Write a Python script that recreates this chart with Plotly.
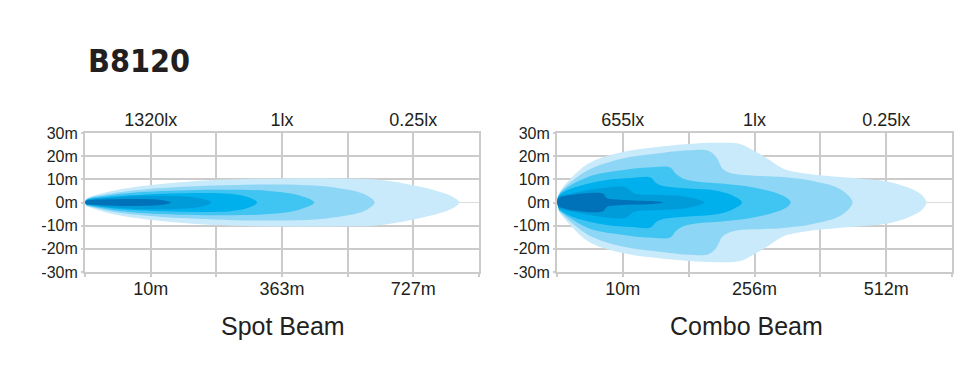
import plotly.graph_objects as go

# page body adds an 8px margin, so the figure is laid out in a shifted frame
OFF = 8
W, H = 977 - 2 * OFF, 389 - 2 * OFF


def px_x(p):
    return (p - OFF) / W


def px_y(p):
    return 1 - (p - OFF) / H


# ---------------- data ----------------
title_text = "B8120"
y_ticks = [-30, -20, -10, 0, 10, 20, 30]
y_labels = ["-30m", "-20m", "-10m", "0m", "10m", "20m", "30m"]
grid_x = [0, 1, 2, 3, 4, 5, 6]

spot_dist_labels = ["", "10m", "", "363m", "", "727m", ""]
spot_lux_labels = ["1320lx", "1lx", "0.25lx"]
combo_dist_labels = ["", "10m", "", "256m", "", "512m", ""]
combo_lux_labels = ["655lx", "1lx", "0.25lx"]
lux_positions = [1, 3, 5]

colors = ["#c9eafa", "#8ed6f6", "#40c4f2", "#00b0ec", "#009bd9", "#0072b9"]

# Spot beam isolux contours: distance (grid units) and half-width (m)
spot1_x = [0, 0.02, 0.43, 0.94, 1.45, 1.96, 2.98, 4.0, 4.4, 4.86, 5.37, 5.6, 5.7]
spot1_w = [0, 1.6, 5.1, 7.3, 8.7, 9.7, 10.4, 10.3, 10.0, 8.2, 4.9, 2.5, 0]
spot2_x = [0, 0.02, 0.43, 0.94, 1.96, 2.9, 3.5, 3.84, 4.25, 4.41]
spot2_w = [0, 1.4, 4.0, 5.7, 7.3, 7.8, 7.3, 6.3, 3.7, 0]
spot3_x = [0, 0.02, 0.43, 0.94, 1.96, 2.8, 3.23, 3.49]
spot3_w = [0, 1.2, 3.3, 4.6, 5.5, 5.0, 3.3, 0]
spot4_x = [0, 0.02, 0.43, 0.94, 1.45, 2.21, 2.5, 2.62]
spot4_w = [0, 1.0, 2.6, 3.5, 4.0, 3.8, 2.2, 0]
spot5_x = [0, 0.02, 0.43, 0.94, 1.45, 1.8, 1.92]
spot5_w = [0, 0.9, 2.2, 2.9, 2.7, 1.6, 0]
spot6_x = [0, 0.02, 0.3, 0.69, 1.15, 1.31]
spot6_w = [0, 0.8, 1.3, 1.5, 1.1, 0]

# Combo beam isolux contours
combo1_x = [0, 0.04, 0.47, 0.98, 1.49, 2.0, 2.45, 2.78, 2.98, 3.2, 3.44, 3.8, 4.6, 5.0, 5.37, 5.55, 5.61]
combo1_w = [0, 4.4, 16.7, 21.7, 23.9, 25.3, 25.8, 25.3, 22.5, 18.9, 14.6, 12.4, 10.3, 9.2, 6.0, 3.0, 0]
combo2_x = [0, 0.04, 0.47, 0.98, 1.49, 2.0, 2.3, 2.42, 2.52, 2.68, 3.0, 3.44, 3.85, 4.25, 4.42, 4.49]
combo2_w = [0, 4.0, 13.9, 18.9, 21.0, 22.5, 22.3, 19.5, 14.5, 12.4, 11.6, 11.0, 9.5, 6.5, 3.2, 0]
combo3_x = [0, 0.03, 0.47, 0.98, 1.49, 1.72, 1.8, 1.92, 2.18, 2.5, 2.94, 3.35, 3.5, 3.55]
combo3_w = [0, 3.5, 11.0, 13.9, 15.3, 15.1, 12.5, 10.3, 8.9, 8.2, 6.7, 3.9, 1.8, 0]
combo4_x = [0, 0.03, 0.22, 0.73, 1.14, 1.42, 1.5, 1.6, 2.0, 2.4, 2.65, 2.81]
combo4_w = [0, 3.0, 6.0, 9.6, 10.6, 10.8, 8.5, 7.2, 6.0, 5.2, 3.2, 0]
combo5_x = [0, 0.03, 0.22, 0.63, 1.03, 1.1, 1.18, 1.5, 1.9, 2.12, 2.24]
combo5_w = [0, 2.5, 3.9, 6.0, 6.7, 5.5, 3.9, 3.3, 2.7, 1.5, 0]
combo6_x = [0, 0.02, 0.2, 0.6, 0.7, 0.76, 0.85, 1.16, 1.45, 1.61]
combo6_w = [0, 1.8, 3.2, 4.2, 3.8, 1.8, 1.4, 0.9, 0.6, 0]

spot_layers = [(spot1_x, spot1_w), (spot2_x, spot2_w), (spot3_x, spot3_w),
               (spot4_x, spot4_w), (spot5_x, spot5_w), (spot6_x, spot6_w)]
combo_layers = [(combo1_x, combo1_w), (combo2_x, combo2_w), (combo3_x, combo3_w),
                (combo4_x, combo4_w), (combo5_x, combo5_w), (combo6_x, combo6_w)]

# ---------------- figure ----------------
fig = go.Figure()


def outline(xs, ws):
    # upper edge out to the tip, lower edge (mirrored) back to the nose
    px = list(xs) + list(reversed(xs[1:-1]))
    py = list(ws) + [-w for w in reversed(ws[1:-1])]
    return px, py


for layers, xa, ya in [(spot_layers, "x", "y"), (combo_layers, "x2", "y2")]:
    for (xs, ws), col in zip(layers, colors):
        px, py = outline(xs, ws)
        fig.add_trace(go.Scatter(
            x=px, y=py, xaxis=xa, yaxis=ya, mode="lines",
            line=dict(color=col, width=0, shape="spline", smoothing=1.0),
            fill="toself", fillcolor=col, hoverinfo="skip", showlegend=False))

# invisible traces for the top (lux) axes
fig.add_trace(go.Scatter(x=[0, 6], y=[0, 0], xaxis="x3", yaxis="y", mode="none",
                         hoverinfo="skip", showlegend=False))
fig.add_trace(go.Scatter(x=[0, 6], y=[0, 0], xaxis="x4", yaxis="y2", mode="none",
                         hoverinfo="skip", showlegend=False))

grid_col = "#cbcbcb"
txt_col = "#231f20"
d1 = [px_x(85), px_x(479)]
d2 = [px_x(557), px_x(952)]
ydom = [px_y(272), px_y(133)]

xcommon = dict(range=[0, 6], tickvals=grid_x, showgrid=True, gridcolor=grid_col,
               gridwidth=2, zeroline=False, showline=True, linecolor=grid_col,
               linewidth=2, mirror=True, ticks="outside", ticklen=3, tickwidth=2,
               tickcolor=grid_col, automargin=False, ticklabelstandoff=-4,
               tickfont=dict(family="Liberation Sans", size=18, color=txt_col),
               fixedrange=True)
ycommon = dict(range=[-30, 30], tickvals=y_ticks, ticktext=y_labels, showgrid=True,
               gridcolor=grid_col, gridwidth=2, zeroline=True, zerolinecolor="#dcdcdc",
               zerolinewidth=1, showline=True, linecolor=grid_col, linewidth=2,
               mirror=True, ticks="outside", ticklen=2, tickwidth=2, tickcolor=grid_col,
               automargin=False,
               tickfont=dict(family="Liberation Sans", size=16, color=txt_col),
               domain=ydom, fixedrange=True)
topcommon = dict(range=[0, 6], tickvals=lux_positions, side="top", showgrid=False,
                 zeroline=False, showline=False, ticks="", automargin=False,
                 ticklabelstandoff=2,
                 tickfont=dict(family="Liberation Sans", size=18, color=txt_col),
                 fixedrange=True)

fig.update_layout(
    template="none",
    width=W, height=H,
    margin=dict(l=0, r=0, t=0, b=0, autoexpand=False),
    paper_bgcolor="white", plot_bgcolor="white",
    xaxis=dict(xcommon, domain=d1, ticktext=spot_dist_labels, anchor="y"),
    xaxis2=dict(xcommon, domain=d2, ticktext=combo_dist_labels, anchor="y2"),
    xaxis3=dict(topcommon, overlaying="x", anchor="y", ticktext=spot_lux_labels),
    xaxis4=dict(topcommon, overlaying="x2", anchor="y2", ticktext=combo_lux_labels),
    yaxis=dict(ycommon, anchor="x"),
    yaxis2=dict(ycommon, anchor="x2"),
    annotations=[
        dict(text=title_text, xref="paper", yref="paper", x=px_x(86), y=px_y(61),
             xanchor="left", yanchor="middle", showarrow=False,
             font=dict(family="DejaVu Sans Condensed", size=32,
                       color="#231f20", weight="bold")),
        dict(text="Spot Beam", xref="paper", yref="paper", x=px_x(283), y=px_y(326),
             xanchor="center", yanchor="middle", showarrow=False,
             font=dict(family="Liberation Sans", size=25, color=txt_col)),
        dict(text="Combo Beam", xref="paper", yref="paper", x=px_x(746), y=px_y(326),
             xanchor="center", yanchor="middle", showarrow=False,
             font=dict(family="Liberation Sans", size=25, color=txt_col)),
    ],
)

fig.write_html("out.html")
